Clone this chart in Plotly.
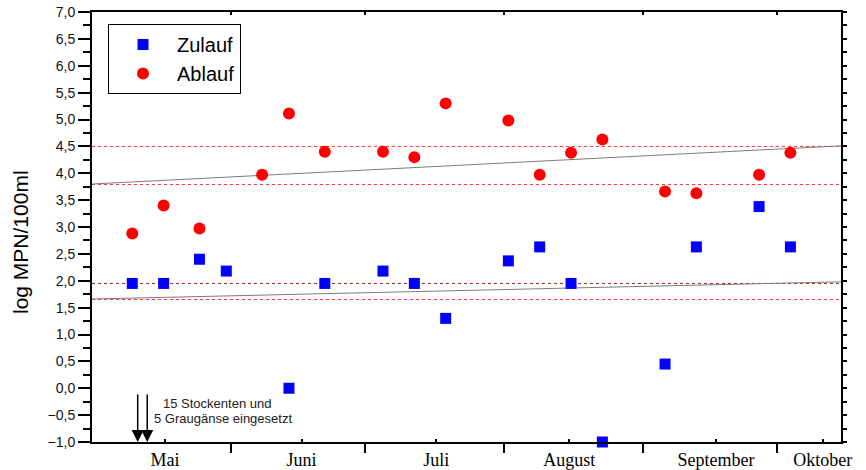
import plotly.graph_objects as go
from datetime import datetime, timedelta

# ---- data ----
dates = ["2001-05-10", "2001-05-17", "2001-05-25", "2001-05-31", "2001-06-08",
         "2001-06-14", "2001-06-22", "2001-07-05", "2001-07-12", "2001-07-19",
         "2001-08-02", "2001-08-09", "2001-08-16", "2001-08-23", "2001-09-06",
         "2001-09-13", "2001-09-27", "2001-10-04"]
zulauf = [1.95, 1.95, 2.40, 2.18, None, 0.00, 1.95, 2.18, 1.95, 1.30,
          2.37, 2.63, 1.95, -1.00, 0.45, 2.63, 3.38, 2.63]
ablauf = [2.88, 3.40, 2.97, None, 3.97, 5.11, 4.40, 4.40, 4.30, 5.30,
          4.98, 3.97, 4.38, 4.63, 3.66, 3.63, 3.97, 4.38]
month_labels = ["Mai", "Juni", "Juli", "August", "September", "Oktober"]
month_starts = ["2001-06-01", "2001-07-01", "2001-08-01", "2001-09-01", "2001-10-01"]
ref_levels_red = [4.5, 3.79, 1.65]
ref_level_dark = 1.95
trend_start = [3.80, 1.66]
trend_end = [4.51, 1.98]
arrow_dates = ["2001-05-11 05:00", "2001-05-13 08:00"]
note_lines = ["15 Stockenten und", "5 Graugänse eingesetzt"]

# ---- layout helpers ----
base = datetime(2001, 5, 1)
x_range = [base, base + timedelta(days=167.3)]
label_days = [16.3, 46.8, 76.9, 106.6, 139.4, 163.2]
label_pos = [base + timedelta(days=d) for d in label_days]

fig = go.Figure()
fig.add_trace(go.Scatter(x=dates, y=zulauf, mode="markers", name="Zulauf",
                         marker=dict(symbol="square", size=11, color="#0000ff"),
                         cliponaxis=False))
fig.add_trace(go.Scatter(x=dates, y=ablauf, mode="markers", name="Ablauf",
                         marker=dict(symbol="circle", size=12, color="#ff0000"),
                         cliponaxis=False))
# dummy trace for mirrored axes
fig.add_trace(go.Scatter(x=[None], y=[None], xaxis="x2", yaxis="y2",
                         showlegend=False, hoverinfo="skip"))

shapes = []
for lv in ref_levels_red:
    shapes.append(dict(type="line", xref="x domain", yref="y", x0=0, x1=1, y0=lv, y1=lv,
                       line=dict(color="#ff3030", width=1, dash="dot"), layer="below"))
shapes.append(dict(type="line", xref="x domain", yref="y", x0=0, x1=1,
                   y0=ref_level_dark, y1=ref_level_dark,
                   line=dict(color="#a02020", width=1, dash="dot"), layer="below"))
for a, b in zip(trend_start, trend_end):
    shapes.append(dict(type="line", xref="x domain", yref="y", x0=0, x1=1, y0=a, y1=b,
                       line=dict(color="#7a7a7a", width=1), layer="below"))

annotations = []
for xd in arrow_dates:
    annotations.append(dict(x=xd, y=-1.0, xref="x", yref="y", ax=0, ay=-49,
                            showarrow=True, arrowhead=2, arrowsize=1.6, arrowwidth=1.5,
                            arrowcolor="black", text="", standoff=0))
annotations.append(dict(x=(161.0 - 92) / 749, y=(442 - 403.7) / 430, xref="paper", yref="paper",
                        xanchor="left", yanchor="middle", showarrow=False, text=note_lines[0],
                        font=dict(family="Arial, Liberation Sans", size=13, color="#222")))
annotations.append(dict(x=(152.0 - 92) / 749, y=(442 - 418.7) / 430, xref="paper", yref="paper",
                        xanchor="left", yanchor="middle", showarrow=False, text=note_lines[1],
                        font=dict(family="Arial, Liberation Sans", size=13, color="#222")))
annotations.append(dict(x=-72 / 749, y=(442 - 242) / 430, xref="paper", yref="paper",
                        xanchor="center", yanchor="middle", showarrow=False,
                        text="log MPN/100ml", textangle=-90,
                        font=dict(family="Arial, Liberation Sans", size=21, color="black")))

fig.update_layout(
    width=866, height=470,
    margin=dict(l=92, r=25, t=12, b=28, autoexpand=False),
    paper_bgcolor="white", plot_bgcolor="white",
    separators=",.",
    showlegend=True,
    legend=dict(x=16 / 749, y=(442 - 24) / 430, xanchor="left", yanchor="top",
                bordercolor="black", borderwidth=1, bgcolor="white",
                font=dict(family="Arial, Liberation Sans", size=20, color="black"),
                itemwidth=58, tracegroupgap=0),
    xaxis=dict(type="date", range=x_range, showgrid=False, zeroline=False, automargin=False,
               showline=True, linecolor="black", linewidth=2,
               tickmode="array", tickvals=label_pos, ticktext=month_labels,
               ticks="inside", ticklen=3, tickwidth=2, tickcolor="black",
               tickfont=dict(family="Liberation Serif, Times New Roman", size=18, color="black"),
               minor=dict(tickmode="array", tickvals=month_starts, ticks="outside",
                          ticklen=9, tickwidth=2, tickcolor="black", showgrid=False)),
    yaxis=dict(range=[-1, 7], showgrid=False, zeroline=False, automargin=False,
               showline=True, linecolor="black", linewidth=2,
               tickmode="linear", tick0=-1, dtick=0.5, tickformat=".1f",
               ticks="outside", ticklen=12, tickwidth=2, tickcolor="black",
               tickfont=dict(family="Arial, Liberation Sans", size=14, color="#111"),
               minor=dict(dtick=0.25, ticks="outside", ticklen=7, tickwidth=2,
                          tickcolor="black", showgrid=False)),
    xaxis2=dict(type="date", range=x_range, overlaying="x", side="top", showgrid=False,
                zeroline=False, showline=True, linecolor="black", linewidth=2, automargin=False,
                tickmode="array", tickvals=month_starts, ticks="inside", ticklen=3,
                tickwidth=2, tickcolor="black", showticklabels=False),
    yaxis2=dict(range=[-1, 7], overlaying="y", side="right", anchor="x", showgrid=False,
                zeroline=False, showline=True, linecolor="black", linewidth=2, automargin=False,
                tickmode="linear", tick0=-1, dtick=0.25, ticks="outside", ticklen=4,
                tickwidth=2, tickcolor="black", showticklabels=False),
    shapes=shapes,
    annotations=annotations,
)

fig.write_html("out.html")
